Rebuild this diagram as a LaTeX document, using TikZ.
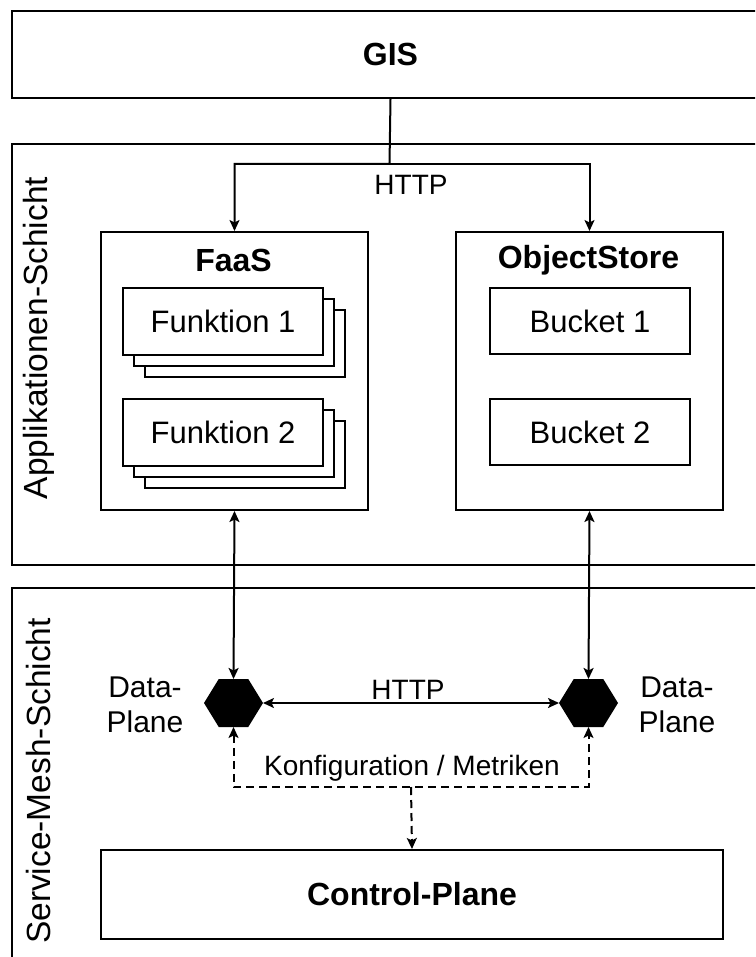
\documentclass[tikz,border=0pt]{standalone}
\usepackage{fontspec}
\setmainfont{Liberation Sans}
\usetikzlibrary{arrows.meta,calc}

\begin{document}
\begin{tikzpicture}[x=1pt,y=-1pt,
  line width=2pt,
  >={Stealth[length=11pt,width=10pt,inset=2.5pt]},
  box/.style={draw, fill=white, inner sep=0pt, anchor=north west},
  layer/.style={box},
  titletext/.style={font=\fontsize{32}{38}\selectfont\bfseries},
  boxtext/.style={font=\fontsize{31}{36}\selectfont},
  lbl/.style={font=\fontsize{28}{33}\selectfont, inner sep=0pt},
  sidelbl/.style={font=\fontsize{30}{35}\selectfont, align=center, inner sep=0pt},
  layerlbl/.style={font=\fontsize{33.5}{38}\selectfont, rotate=90, inner sep=0pt},
  hexnode/.style={minimum width=57pt, minimum height=46pt, inner sep=0pt, draw=none},
  flow/.style={dash pattern=on 8pt off 5pt}
]
\useasboundingbox (0,0) rectangle (755,957);
\clip (0,0) rectangle (755,957);

% --- outer layers ---
\node[layer, minimum width=757pt, minimum height=87pt, titletext] (gis) at (11,10) {GIS};
\node[layer, minimum width=757pt, minimum height=421pt] (app) at (11,143) {};
\node[layer, minimum width=757pt, minimum height=388pt] (mesh) at (11,587) {};

\node[layerlbl] (applbl) at (39,338) {Applikationen-Schicht};
\node[layerlbl] (meshlbl) at (39,781) {Service-Mesh-Schicht};

% --- FaaS container with stacked functions ---
\node[box, minimum width=267pt, minimum height=278pt] (faas) at (100,231) {};
\node[titletext] (faastitle) at (233.5,260) {FaaS};

\node[box, minimum width=200pt, minimum height=67pt] (f1c) at (144,309) {};
\node[box, minimum width=200pt, minimum height=67pt] (f1b) at (133,298) {};
\node[box, minimum width=200pt, minimum height=67pt, boxtext] (f1) at (122,287) {Funktion 1};

\node[box, minimum width=200pt, minimum height=67pt] (f2c) at (144,420) {};
\node[box, minimum width=200pt, minimum height=67pt] (f2b) at (133,409) {};
\node[box, minimum width=200pt, minimum height=67pt, boxtext] (f2) at (122,398) {Funktion 2};

% --- ObjectStore container with buckets ---
\node[box, minimum width=267pt, minimum height=278pt] (obj) at (455,231) {};
\node[titletext] (objtitle) at (588.5,260) {ObjectStore};
\node[box, minimum width=200pt, minimum height=66pt, boxtext] (b1) at (489,287) {Bucket 1};
\node[box, minimum width=200pt, minimum height=66pt, boxtext] (b2) at (489,398) {Bucket 2};

% --- data planes (hexagons) ---
\node[hexnode] (dpL) at (233.5,703) {};
\node[hexnode] (dpR) at (588.5,703) {};
\foreach \h in {dpL,dpR}{
  \fill (\h.west)
    -- ($(\h.north west)!0.25!(\h.north east)$)
    -- ($(\h.north west)!0.75!(\h.north east)$)
    -- (\h.east)
    -- ($(\h.south west)!0.75!(\h.south east)$)
    -- ($(\h.south west)!0.25!(\h.south east)$)
    -- cycle;
}
\node[sidelbl] (dpLlbl) at (145,705) {Data-\\Plane};
\node[sidelbl] (dpRlbl) at (677,705) {Data-\\Plane};

% --- control plane ---
\node[box, minimum width=622pt, minimum height=89pt, titletext] (cp) at (100,849) {Control-Plane};

% --- connectors ---
\coordinate (split) at (389.5,164);
\draw[->] (gis.south) -- (split) -| (faas.north);
\draw[->] (split) -| (obj.north);
\node[lbl] (httptop) at (411,185) {HTTP};

\draw[<->] (faas.south) -- (dpL.north);
\draw[<->] (obj.south) -- (dpR.north);

\draw[<->] (dpL.east) -- (dpR.west);
\node[lbl] (httpmesh) at (408,690) {HTTP};

\coordinate (cL) at (233.5,787);
\coordinate (cR) at (588.5,787);
\coordinate (cM) at (411,787);
\draw[<->, flow] (dpL.south) -- (cL) -- (cR) -- (dpR.south);
\draw[->, flow] (cM) -- (cp.north);
\node[lbl] (cfg) at (412,768) {Konfiguration / Metriken};

\end{tikzpicture}
\end{document}
